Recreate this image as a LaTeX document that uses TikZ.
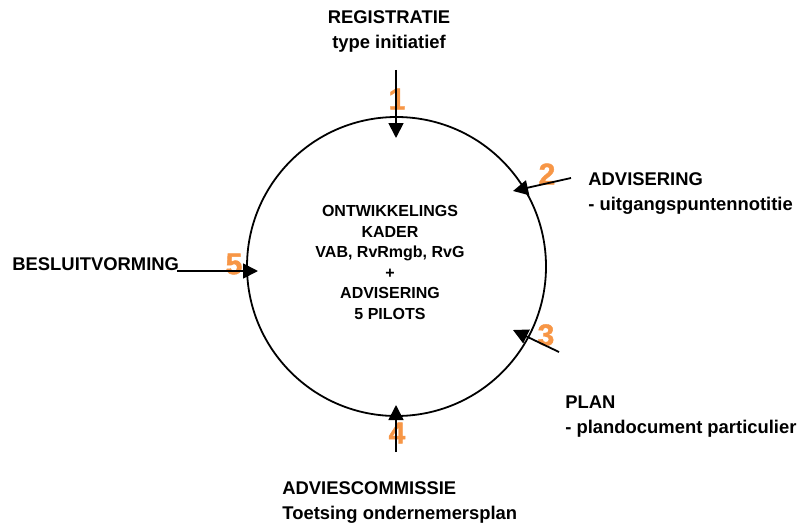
\documentclass[tikz,border=0pt]{standalone}
\usepackage{fontspec}
\setmainfont{Liberation Sans}
\newfontfamily\heavynum[FakeBold=1.5]{Liberation Sans Bold}
\usetikzlibrary{arrows.meta}
\definecolor{steporange}{RGB}{247,150,70}
\tikzset{
  stage/.style={inner sep=0pt, font=\bfseries\fontsize{9.2}{12.5}\selectfont},
  stepnum/.style={inner sep=0pt, text=steporange, font=\heavynum\fontsize{15}{15}\selectfont},
  flow/.style={line width=0.9pt, -{Triangle[length=7.5pt,width=7.5pt]}}
}
\begin{document}
\begin{tikzpicture}[x=0.5pt,y=-0.5pt]
   \useasboundingbox (0,0) rectangle (807,524);

   \node (cycle) at (396.5,266.5) [circle, draw, line width=0.9pt, minimum size=149.5pt, inner sep=0pt] {};
   \node (kader) at (390,205) [stage, anchor=north, align=center, font=\bfseries\fontsize{8}{10.3}\selectfont] {ONTWIKKELINGS\\KADER\\VAB, RvRmgb, RvG\\+\\ADVISERING\\5 PILOTS};

   \node (reg) at (389,10) [stage, anchor=north, align=center] {REGISTRATIE\\type initiatief};
   \node (adv) at (588,172) [stage, anchor=north west, align=left] {ADVISERING\\- uitgangspuntennotitie};
   \node (besl) at (12,257) [stage, anchor=north west] {BESLUITVORMING};
   \node (plan) at (565,395) [stage, anchor=north west, align=left] {PLAN\\- plandocument particulier};
   \node (advc) at (282,481) [stage, anchor=north west, align=left] {ADVIESCOMMISSIE\\Toetsing ondernemersplan};

   \node (num1) at (397,99) [stepnum] {1};
   \node (num2) at (547,174) [stepnum] {2};
   \node (num3) at (546,335) [stepnum] {3};
   \node (num4) at (397,433) [stepnum] {4};
   \node (num5) at (234,264) [stepnum] {5};

   \coordinate (from1) at (396,70);
   \coordinate (to1) at (396,138);
   \coordinate (from2) at (571,178);
   \coordinate (to2) at (513,191);
   \coordinate (from3) at (559,352);
   \coordinate (to3) at (513,330);
   \coordinate (from4) at (396,452);
   \coordinate (to4) at (396,405);
   \coordinate (from5) at (177,271);
   \coordinate (to5) at (258,271);

   \draw [flow] (from1) -- (to1);
   \draw [flow] (from2) -- (to2);
   \draw [flow] (from3) -- (to3);
   \draw [flow] (from4) -- (to4);
   \draw [flow] (from5) -- (to5);

\end{tikzpicture}
\end{document}
